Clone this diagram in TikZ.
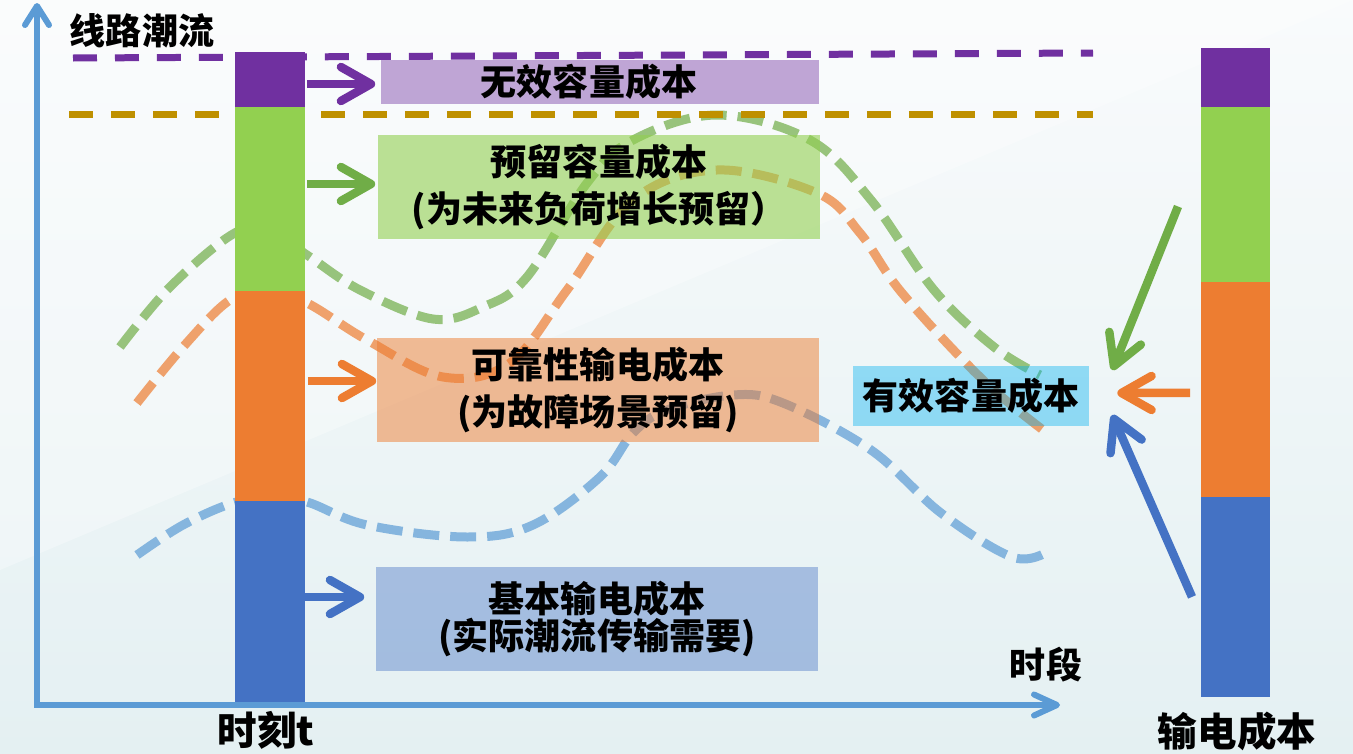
\documentclass[tikz,border=0pt]{standalone}
\usepackage{fontspec}
\setmainfont{Noto Sans CJK SC}
\usepackage{tikz}
\usetikzlibrary{arrows.meta, positioning}
\definecolor{cPurple}{HTML}{7030A0}
\definecolor{cGreen}{HTML}{92D050}
\definecolor{cGreenD}{HTML}{70AD47}
\definecolor{cOrange}{HTML}{ED7D31}
\definecolor{cBlue}{HTML}{4472C4}
\definecolor{cAxis}{HTML}{5B9BD5}
\definecolor{cGold}{HTML}{BF9000}
\definecolor{cCyan}{HTML}{00B0F0}
\definecolor{bgTop}{HTML}{F9FBFC}
\definecolor{bgBot}{HTML}{E4F0F2}

\begin{document}
\begin{tikzpicture}[x=0.02cm, y=-0.02cm,
    seg/.style={fill=#1, minimum width=1.4cm, inner sep=0pt, outer sep=0pt},
    costbox/.style 2 args={fill=#1, fill opacity=#2, text opacity=1,
                minimum width=8.86cm, minimum height=2.1cm, inner sep=0pt,
                align=center, font=\fontsize{20.5}{27}\selectfont\bfseries},
    lbl/.style={inner sep=0pt, font=\fontsize{20.5}{24}\selectfont\bfseries},
    flow/.style={draw=#1, draw opacity=0.7, line width=0.18cm,
                 dash pattern=on 0.52cm off 0.22cm},
    limit/.style={draw=#1, line width=0.14cm, dash pattern=on 0.48cm off 0.36cm},
    arr/.style={draw=#1, line width=0.17cm,
                -{Straight Barb[length=0.6cm, width=0.68cm, round]}},
    axis/.style={draw=cAxis, line width=0.12cm,
                 {Straight Barb[length=0.38cm, width=0.48cm, round]}-{Straight Barb[length=0.46cm, width=0.42cm, round]}},
]
    % background
    \fill[top color=bgTop, bottom color=bgBot] (0,0) rectangle (1353,754);
    \fill[white, opacity=0.3] (0,0) -- (1353,0) -- (0,570) -- cycle;
    \useasboundingbox (0,0) rectangle (1353,754);

    % power flow curves
    \draw[flow=cGreenD] plot[smooth, tension=0.6] coordinates {(120,347) (170,287) (233,234) (268,230) (307,255)
        (360,290) (433,319) (483,307) (527,277) (587,183) (633,140) (717,115) (810,140) (871,200)
        (934,290) (994,347) (1040,375)};
    \draw[flow=cOrange] plot[smooth, tension=0.6] coordinates {(137,403) (183,347) (230,300) (268,292) (307,303)
        (367,340) (443,377) (510,363) (567,290) (633,200) (717,170) (817,193) (860,233)
        (902,293) (983,380) (1047,433)};
    \draw[flow=cAxis] plot[smooth, tension=0.6] coordinates {(137,555) (183,525) (233,503) (270,498) (307,502)
        (367,525) (467,537) (533,525) (600,477) (633,433) (667,410) (733,395) (783,403)
        (871,450) (941,513) (1012,557) (1047,552)};

    % capacity limits
    \draw[limit=cPurple] (73,58) -- (1093,53);
    \draw[limit=cGold] (69,114) -- (1093,114);

    % cost boxes
    \node[costbox={cPurple}{0.42}, minimum width=8.78cm, minimum height=0.9cm] (idle) at (600,82) {无效容量成本\hspace*{0.44cm}};
    \node[costbox={cGreen}{0.6}] (spare) at (599,187) {预留容量成本\\(为未来负荷增长预留）};
    \node[costbox={cOrange}{0.5}] (relia) at (598,390) {可靠性输电成本\\(为故障场景预留)};
    \node[costbox={cBlue}{0.41}, font=\fontsize{20.5}{21.5}\selectfont\bfseries] (base) at (597,619) {基本输电成本\\(实际潮流传输需要)};
    \node[costbox={cCyan}{0.4}, minimum width=4.72cm, minimum height=1.2cm] (eff) at (971,396) {有效容量成本};

    % bar at time t
    \node[seg=cPurple, minimum height=1.1cm] (lP) at (270,79.5) {};
    \node[seg=cGreen, minimum height=3.68cm, below=0pt of lP] (lG) {};
    \node[seg=cOrange, minimum height=4.2cm, below=0pt of lG] (lO) {};
    \node[seg=cBlue, minimum height=4.04cm, below=0pt of lO] (lB) {};

    % total cost bar
    \node[seg=cPurple, minimum width=1.38cm, minimum height=1.18cm] (rP) at (1235.5,77.5) {};
    \node[seg=cGreen, minimum width=1.38cm, minimum height=3.5cm, below=0pt of rP] (rG) {};
    \node[seg=cOrange, minimum width=1.38cm, minimum height=4.3cm, below=0pt of rG] (rO) {};
    \node[seg=cBlue, minimum width=1.38cm, minimum height=4.0cm, below=0pt of rO] (rB) {};

    % split arrows
    \draw[arr=cPurple, shorten <=0.04cm, shorten >=0.1cm] (lP.east |- 0,84) -- (idle.west |- 0,84);
    \draw[arr=cGreenD, shorten <=0.04cm, shorten >=0.04cm] (lG.east |- 0,184) -- (spare.west |- 0,184);
    \draw[arr=cOrange, shorten <=0.06cm] (lO.east |- 0,381) -- (relia.west |- 0,381);
    \draw[arr=cBlue, shorten >=0.22cm] (lB.east |- 0,597) -- (base.west |- 0,597);

    % merge arrows
    \draw[arr=cGreenD] ([shift={(-23,12)}]rG.west) -- ([shift={(23,-26)}]eff.east);
    \draw[arr=cOrange] ([shift={(-11,3.5)}]rO.west) -- ([shift={(28,-3)}]eff.east);
    \draw[arr=cBlue] ([shift={(-9,0)}]rB.west) -- ([shift={(23,19)}]eff.east);

    % axes
    \coordinate (yTop) at (37,3);
    \coordinate (orig) at (37,705);
    \coordinate (xEnd) at (1060,705);
    \draw[axis] (yTop) -- (orig) -- (xEnd);

    % labels
    \node[lbl] (yLbl) at (142,31) {线路潮流};
    \node[lbl] (xLbl) at (1046,665) {时段};
    \node[lbl, font=\fontsize{22.5}{24}\selectfont\bfseries] (tLbl) at (266,730) {时刻t};
    \node[lbl, font=\fontsize{22.5}{24}\selectfont\bfseries] (costLbl) at (1237,731) {输电成本};
\end{tikzpicture}
\end{document}
